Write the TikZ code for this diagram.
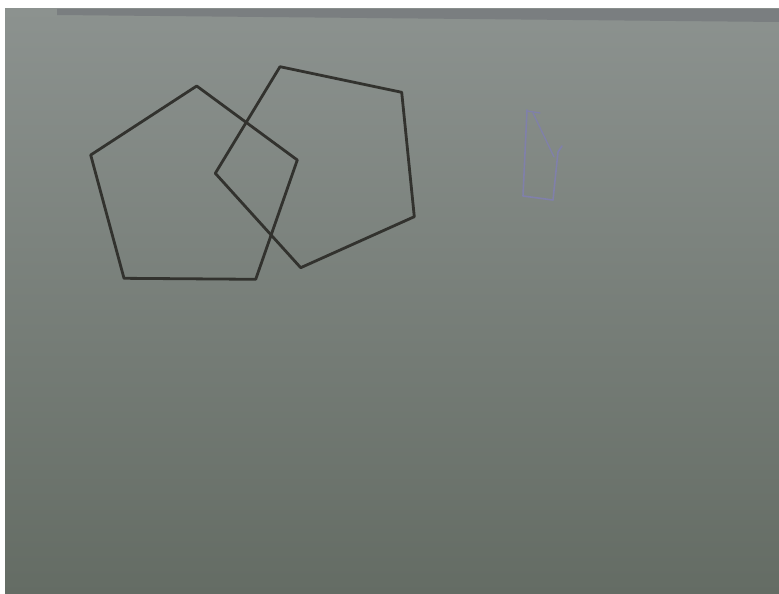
\documentclass[tikz,border=0pt]{standalone}
\usepackage{tikz}
\usepackage{xcolor}

\definecolor{paperTop}{RGB}{140,146,143}
\definecolor{paperMid}{RGB}{132,134,136}
\definecolor{paperLow}{RGB}{100,108,100}
\definecolor{binderEdge}{RGB}{122,126,128}
\definecolor{inkLine}{RGB}{50,50,46}
\definecolor{pencilLine}{RGB}{128,128,170}

\begin{document}
\begin{tikzpicture}[x=1pt,y=-1pt]
\useasboundingbox (0,0) rectangle (779,594);
\fill[white] (0,0) rectangle (779,594);
\shade[top color=paperTop,middle color=paperMid,bottom color=paperLow] (5,9) rectangle (779,594);
% edge of the sheet above
\fill[binderEdge] (57,9) -- (779,9) -- (779,22) -- (57,15) -- cycle;
% left pentagon
\draw[inkLine,line width=2.8pt,line join=round] (196.7,86) -- (297.3,160) -- (255.7,279.3) -- (124,278.3) -- (90.7,155) -- cycle;
% right pentagon
\draw[inkLine,line width=2.8pt,line join=round] (280,66.7) -- (401.7,92.3) -- (414.3,216.7) -- (300.7,267.7) -- (215.3,173.3) -- cycle;
% pencil sketch
\draw[pencilLine,line width=1.6pt,line cap=round,line join=round] (527,110) -- (523,196) -- (553,200) -- (558,152) -- (562,146);
\draw[pencilLine,line width=1.3pt,line cap=round] (527,111) -- (540,113);
\draw[pencilLine,line width=1.3pt,line cap=round] (533,113) -- (554,157);
\end{tikzpicture}
\end{document}
